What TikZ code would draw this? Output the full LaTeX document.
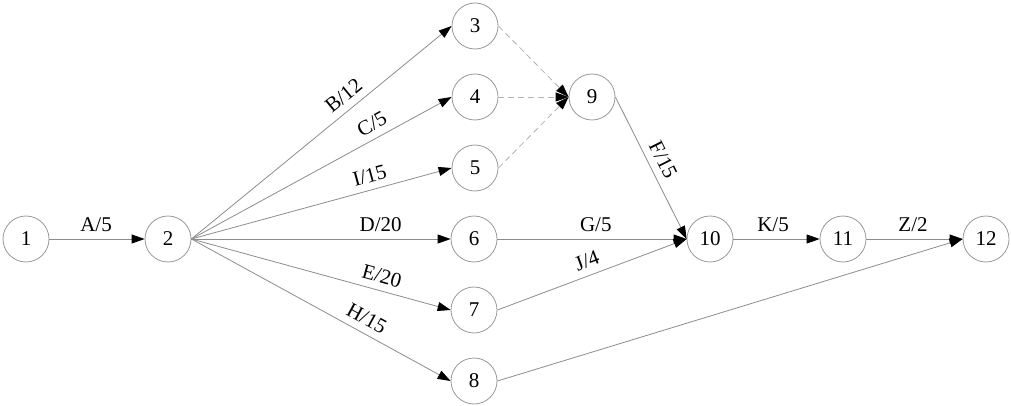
\documentclass[tikz,border=0pt]{standalone}
\usepackage{fontspec}
\setmainfont{Liberation Serif}
\usetikzlibrary{arrows.meta}
\begin{document}
\begin{tikzpicture}[x=1pt,y=-1pt,
  ev/.style={circle,draw=black!40,line width=0.8pt,minimum size=46pt,inner sep=0pt,font=\fontsize{21}{25}\selectfont},
  act/.style={draw=black!45,line width=0.8pt,-{Triangle[length=13pt,width=9pt,color=black]}},
  dum/.style={act,dash pattern=on 6pt off 4pt,draw=black!30},
  lab/.style={sloped,above=5pt,inner sep=2pt,font=\fontsize{21}{25}\selectfont}]
\useasboundingbox (0,0) rectangle (1011,406);
\node[ev] (n1) at (26,239) {1};
\node[ev] (n2) at (168,239) {2};
\node[ev] (n3) at (475,26) {3};
\node[ev] (n4) at (475,97) {4};
\node[ev] (n5) at (475,168) {5};
\node[ev] (n6) at (474,239) {6};
\node[ev] (n7) at (474,310) {7};
\node[ev] (n8) at (474,381) {8};
\node[ev] (n9) at (592,97) {9};
\node[ev] (n10) at (710,239) {10};
\node[ev] (n11) at (843,239) {11};
\node[ev] (n12) at (986,239) {12};
\draw[act] (n1.east) -- node[lab,pos=0.49] {A/5} (n2.west);
\draw[act] (n2.east) -- node[lab,pos=0.62] {B/12} (n3.west);
\draw[act] (n2.east) -- node[lab,pos=0.72] {C/5} (n4.west);
\draw[act] (n2.east) -- node[lab,pos=0.70] {I/15} (n5.west);
\draw[act] (n2.east) -- node[lab,pos=0.73] {D/20} (n6.west);
\draw[act] (n2.east) -- node[lab,pos=0.72] {E/20} (n7.west);
\draw[act] (n2.east) -- node[lab,pos=0.65] {H/15} (n8.west);
\draw[dum] (n3.east) -- (n9.west);
\draw[dum] (n4.east) -- (n9.west);
\draw[dum] (n5.east) -- (n9.west);
\draw[act] (n9.east) -- node[lab,pos=0.49] {F/15} (n10.west);
\draw[act] (n6.east) -- node[lab,pos=0.52] {G/5} (n10.west);
\draw[act] (n7.east) -- node[lab,pos=0.50] {J/4} (n10.west);
\draw[act] (n10.east) -- node[lab,pos=0.46] {K/5} (n11.west);
\draw[act] (n11.east) -- node[lab,pos=0.485] {Z/2} (n12.west);
\draw[act] (n8.east) -- (n12.west);
\end{tikzpicture}
\end{document}
